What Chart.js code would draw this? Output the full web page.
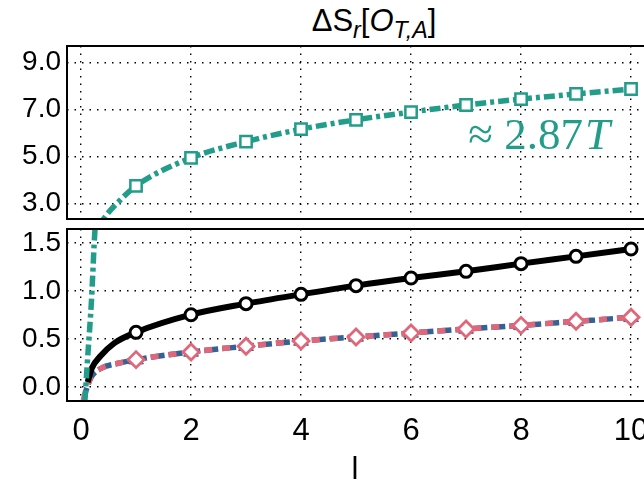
<!DOCTYPE html>
<html>
<head>
<meta charset="utf-8">
<script src="https://cdn.jsdelivr.net/npm/chart.js@4"></script>
<style>
  html, body { margin:0; padding:0; background:#fff; overflow:hidden; width:644px; height:482px; }
  #topChart { position:absolute; left:0; top:0; }
  #botChart { position:absolute; left:0; top:222px; }
  #title { position:absolute; left:0; width:748px; top:3px; text-align:center;
           font:31px "Liberation Sans", Arial, sans-serif; color:#000; }
  #title sub { font-size:75%; }
  #xlabel { position:absolute; left:255px; width:200px; top:451px; text-align:center;
            font:31px "Liberation Sans", Arial, sans-serif; color:#000; }
</style>
</head>
<body>
<div id="title">ΔS<sub><i>r</i></sub>[<i>O</i><sub><i>T,A</i></sub>]</div>
<canvas id="topChart" width="690" height="222"></canvas>
<canvas id="botChart" width="690" height="260"></canvas>
<div id="xlabel">l</div>
<script>
// values at the integer marks l = 1..10
const markX = [1, 2, 3, 4, 5, 6, 7, 8, 9, 10];
const squareY = [3.74, 4.93, 5.62, 6.15, 6.55, 6.88, 7.18, 7.43, 7.65, 7.86];
const circleY = [0.569, 0.753, 0.868, 0.965, 1.056, 1.135, 1.205, 1.285, 1.361, 1.438];
const diamondY = [0.285, 0.365, 0.424, 0.479, 0.521, 0.563, 0.604, 0.642, 0.684, 0.726];
const triangleY = [0.285, 0.365, 0.424, 0.479, 0.521, 0.563, 0.604, 0.642, 0.684, 0.726];

// curve starts near l = 0
const tealHeadX = [0.07, 0.12, 0.19, 0.255, 0.41, 0.71];
const tealHeadY = [-0.15, 0.3, 0.9, 1.65, 2.33, 3.13];
const blackHeadX = [0.12, 0.2, 0.35, 0.6];
const blackHeadY = [0.05, 0.2, 0.32, 0.455];
const pinkHeadX = [0.04, 0.1, 0.19, 0.35, 0.68];
const pinkHeadY = [-0.15, -0.02, 0.107, 0.19, 0.247];

const xTicks = [0, 2, 4, 6, 8, 10];
const topTicks = [3, 5, 7, 9];
const botTicks = [0, 0.5, 1, 1.5];

const TEAL = '#229d8a', BLUE = '#356294', PINK = '#e0677a';
const FONT = 'Liberation Sans, Arial, sans-serif';

const pts = (xs, ys) => xs.map((x, i) => ({x, y: ys[i]}));
const curve = (hx, hy, my) => pts(hx, hy).concat(pts(markX, my));

function lineSet(data, color, width, dash, order) {
  return { type:'line', data, borderColor:color, borderWidth:width, borderDash:dash, clip:0,
           pointRadius:0, cubicInterpolationMode:'monotone', fill:false, order };
}
function markSet(data, color, style, radius, border, fillColor, order) {
  return { type:'scatter', data, showLine:false, pointStyle:style, pointRadius:radius, clip:0,
           pointBorderColor:color, pointBackgroundColor:fillColor, pointBorderWidth:border, order };
}

function datasets() {
  return [
    markSet(pts(markX, squareY), TEAL, 'rect', 8, 2.5, '#fff', 0),
    lineSet(curve(tealHeadX, tealHeadY, squareY), TEAL, 5.5, [11, 4, 4, 4], 1),
    markSet(pts(markX, circleY), '#000', 'circle', 6, 3, '#fff', 2),
    lineSet(curve(blackHeadX, blackHeadY, circleY), '#000', 6, [], 3),
    markSet(pts(markX, diamondY), PINK, 'rectRot', 8, 2.8, '#fff', 4),
    lineSet(curve(pinkHeadX, pinkHeadY, diamondY), PINK, 5.5, [8, 10], 5),
    markSet(pts(markX, triangleY), BLUE, 'triangle', 8.5, 1, BLUE, 6),
    lineSet(curve(pinkHeadX, pinkHeadY, triangleY), BLUE, 5.5, [14, 4], 7)
  ];
}

const frame = {
  id: 'frame',
  afterDatasetsDraw(chart) {
    const {ctx, chartArea: a} = chart;
    ctx.save();
    ctx.strokeStyle = '#000';
    ctx.lineWidth = 2;
    ctx.strokeRect(a.left, a.top, a.right - a.left, a.bottom - a.top);
    ctx.restore();
  }
};

const note = {
  id: 'note',
  afterDatasetsDraw(chart) {
    const {ctx, scales} = chart;
    const x = scales.x.getPixelForValue(7.04);
    const y = scales.y.getPixelForValue(5.3);
    ctx.save();
    ctx.fillStyle = TEAL;
    ctx.textBaseline = 'alphabetic';
    ctx.font = '45px "Liberation Serif", serif';
    const first = '\u2248 2.87';
    ctx.fillText(first, x, y);
    const w = ctx.measureText(first).width;
    ctx.font = 'italic 45px "Liberation Serif", serif';
    ctx.fillText('T', x + w + 2, y);
    ctx.restore();
  }
};

const gridOpts = { color:'#000', lineWidth:1.4, drawTicks:false };
const borderOpts = { display:false, dash:[1.5, 6] };

function xScale(showLabels) {
  return {
    type:'linear', min:-0.255, max:10.89,
    afterBuildTicks: s => { s.ticks = xTicks.map(v => ({value:v})); },
    afterFit: s => { s.height = showLabels ? 81 : 0; s.paddingLeft = 0; s.paddingRight = 0; },
    grid: gridOpts, border: borderOpts,
    ticks: { display:showLabels, color:'#000', padding:12, font:{family:FONT, size:31},
             maxRotation:0, autoSkip:false }
  };
}
function yScale(min, max, ticks) {
  return {
    type:'linear', min, max,
    afterBuildTicks: s => { s.ticks = ticks.map(v => ({value:v})); },
    afterFit: s => { s.width = 67; s.paddingTop = 0; s.paddingBottom = 0; },
    grid: gridOpts, border: borderOpts,
    ticks: { color:'#000', padding:6, font:{family:FONT, size:28},
             callback: v => v.toFixed(1) }
  };
}

const common = {
  responsive:false, animation:false, devicePixelRatio:1,
  plugins:{ legend:{display:false}, tooltip:{enabled:false}, title:{display:false} }
};

new Chart(document.getElementById('topChart'), {
  data:{ datasets: datasets() },
  options: Object.assign({}, common, {
    layout:{ autoPadding:false, padding:{top:46, bottom:3, left:0, right:10} },
    scales:{ x:xScale(false), y:yScale(2.33, 9.69, topTicks) }
  }),
  plugins:[frame, note]
});

new Chart(document.getElementById('botChart'), {
  data:{ datasets: datasets() },
  options: Object.assign({}, common, {
    layout:{ autoPadding:false, padding:{top:7, bottom:0, left:0, right:10} },
    scales:{ x:xScale(true), y:yScale(-0.146, 1.646, botTicks) }
  }),
  plugins:[frame]
});
</script>
</body>
</html>
